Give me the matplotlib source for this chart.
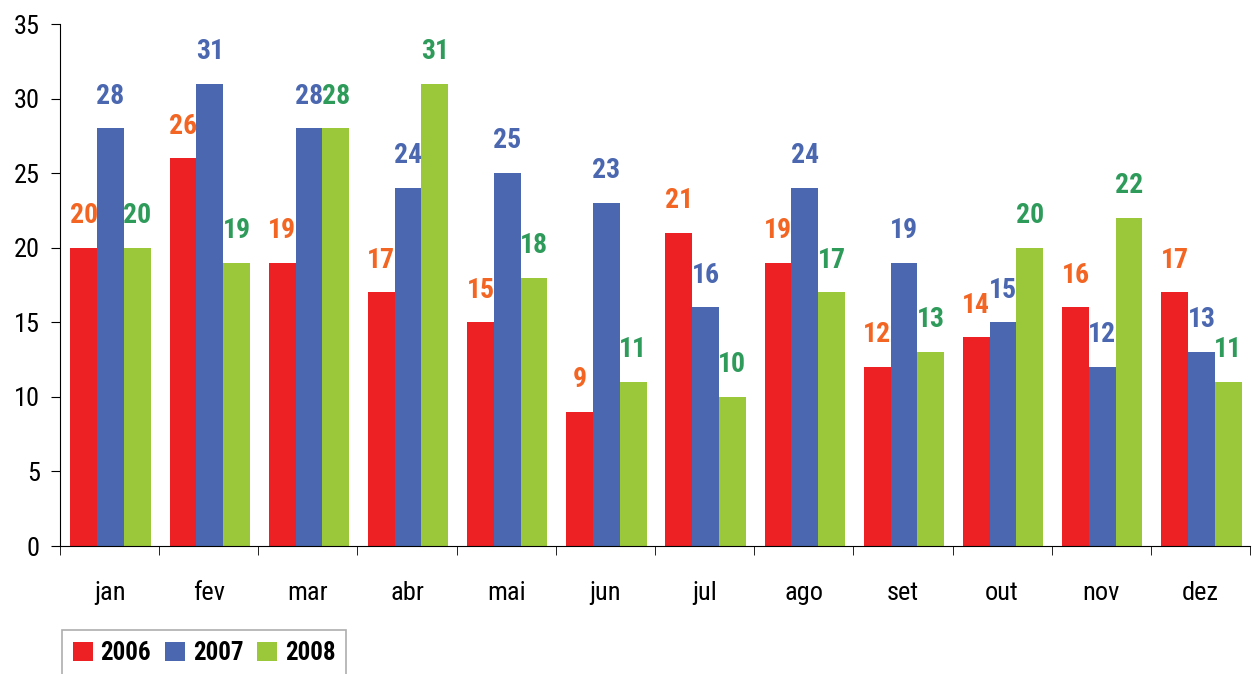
import numpy as np
import matplotlib.pyplot as plt

plt.rcParams['font.family'] = ['Roboto Condensed', 'DejaVu Sans']

months = ['jan', 'fev', 'mar', 'abr', 'mai', 'jun', 'jul', 'ago', 'set', 'out', 'nov', 'dez']
years = ['2006', '2007', '2008']
v2006 = [20, 26, 19, 17, 15, 9, 21, 19, 12, 14, 16, 17]
v2007 = [28, 31, 28, 24, 25, 23, 16, 24, 19, 15, 12, 13]
v2008 = [20, 19, 28, 31, 18, 11, 10, 17, 13, 20, 22, 11]

bar_colors = ['#ED2024', '#4A67B0', '#9BC83B']
label_colors = ['#F26522', '#4A67B0', '#2E9B5A']

fig = plt.figure(figsize=(12.52, 6.74), dpi=100)
ax = fig.add_axes([60/1252, 1-546/674, 1190/1252, 522/674])

x = np.arange(len(months))
w = 0.27
for i, (vals, yr) in enumerate(zip([v2006, v2007, v2008], years)):
    pos = x + (i-1)*w + 0.01
    ax.bar(pos, vals, w, color=bar_colors[i], label=yr)
    for px, v in zip(pos, vals):
        ax.text(px, v + 1.25, str(v), ha='center', va='bottom', color=label_colors[i],
                fontsize=20, fontweight='bold')

ax.set_xlim(-0.5, 11.5)
ax.set_ylim(0, 35)
ax.set_yticks(range(0, 36, 5))
ax.tick_params(axis='y', labelsize=19, length=6.5, direction='out', pad=8)
ax.set_xticks(x)
ax.set_xticklabels(months, fontsize=19)
ax.set_xticks(np.arange(-0.5, 12, 1), minor=True)
ax.tick_params(axis='x', which='major', length=0, pad=25)
ax.tick_params(axis='x', which='minor', length=6.5, direction='out')
for s in ['top', 'right']:
    ax.spines[s].set_visible(False)

leg = ax.legend(loc='upper left', bbox_to_anchor=(0.0017, -0.161), ncol=3, frameon=True, fancybox=False,
                borderaxespad=0, prop={'size': 18, 'weight': 'bold'}, handlelength=0.78, handleheight=0.78,
                handletextpad=0.32, columnspacing=0.56, borderpad=0.44)
leg.get_frame().set_edgecolor('#999999')
leg.get_frame().set_linewidth(1.2)

plt.savefig('out.png', dpi=100)
